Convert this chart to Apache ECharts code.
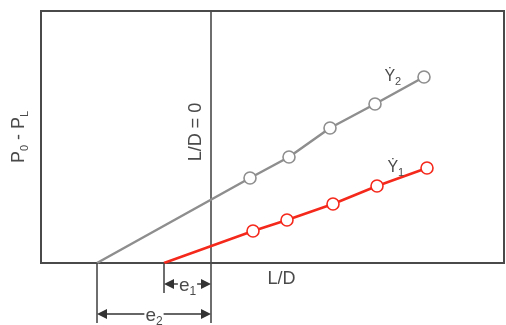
<!DOCTYPE html>
<html><head><meta charset="utf-8">
<script src="https://cdn.jsdelivr.net/npm/echarts@6/dist/echarts.min.js"></script>
<style>html,body{margin:0;padding:0;background:#fff}#chart{width:506px;height:325px}</style>
</head><body><div id="chart"></div>
<script>
// Pressure drop P0 - PL against L/D for two flow rates.
// Extrapolating each line to zero pressure drop gives the entrance corrections e1, e2.
const ldRate2 = [-11.4, 3.9, 7.8, 11.9, 16.4, 21.3];
const dpRate2 = [0, 8.5, 10.6, 13.5, 15.9, 18.6];
const ldRate1 = [-4.7, 4.2, 7.6, 12.2, 16.6, 21.6];
const dpRate1 = [0, 3.2, 4.3, 5.9, 7.7, 9.5];
const rateLabels = ['1', '2'];          // subscripts of the shear-rate symbol
const entranceValues = [4.7, 11.4];     // e1, e2 (distance of intercept from L/D = 0)
const xRange = [-17, 29.3];
const yRange = [0, 25.2];

const TEXT = '#4a4a4a';
const FONT = 'Liberation Sans, Arial, sans-serif';
const GRAY = '#8e8e8e';
const RED = '#f5281c';

function pts(xs, ys) {
  return xs.map((x, i) => i === 0
    ? { value: [x, ys[i]], symbol: 'none' }
    : { value: [x, ys[i]] });
}

function rateSeries(name, xs, ys, color) {
  const data = pts(xs, ys);
  const last = data[data.length - 1];
  last.label = {
    show: true, position: 'left', distance: 16,
    formatter: '{y|Ẏ}{s|' + name + '}',
    rich: {
      y: { fontFamily: FONT, fontSize: 16, color: TEXT },
      s: { fontFamily: FONT, fontSize: 11, color: TEXT, verticalAlign: 'bottom', padding: [9, 0, 0, 0] }
    }
  };
  return {
    type: 'line', data: data, symbol: 'circle', symbolSize: 12, showSymbol: true,
    lineStyle: { color: color, width: 2.5 },
    itemStyle: { color: '#fff', borderColor: color, borderWidth: 1.6 },
    emphasis: { disabled: true }, animation: false, z: 3
  };
}

const chart = echarts.init(document.getElementById('chart'), null, { renderer: 'canvas' });
chart.setOption({
  animation: false,
  grid: { left: 41, right: 2, top: 11, bottom: 62, show: true, borderColor: '#4a4a4a', borderWidth: 2, backgroundColor: '#fff' },
  xAxis: {
    type: 'value', min: xRange[0], max: xRange[1],
    axisLine: { show: false }, axisTick: { show: false }, axisLabel: { show: false }, splitLine: { show: false },
    name: 'L/D', nameLocation: 'middle', nameGap: 7,
    nameTextStyle: { fontFamily: FONT, fontSize: 18, color: TEXT, padding: [0, 0, 0, 18] }
  },
  yAxis: {
    type: 'value', min: yRange[0], max: yRange[1],
    axisLine: { show: false }, axisTick: { show: false }, axisLabel: { show: false }, splitLine: { show: false },
    name: '{p|P}{s|0}{p| - P}{s|L}', nameLocation: 'middle', nameGap: 11, nameRotate: 90,
    nameTextStyle: {
      rich: {
        p: { fontFamily: FONT, fontSize: 18, color: TEXT },
        s: { fontFamily: FONT, fontSize: 11, color: TEXT, verticalAlign: 'bottom', padding: [10, 0, 0, 0] }
      }
    }
  },
  series: [
    // L/D = 0 reference line, running below the axis for the dimension lines
    {
      type: 'custom', data: [[0]], clip: false, silent: true, z: 2,
      renderItem: function (params, api) {
        const top = api.coord([api.value(0), yRange[1]]);
        const base = api.coord([api.value(0), 0]);
        return {
          type: 'group', children: [
            { type: 'line', shape: { x1: top[0], y1: top[1], x2: base[0], y2: base[1] + 60 }, style: { stroke: '#4a4a4a', lineWidth: 1.6 } },
            { type: 'text', x: top[0] - 15, y: base[1] - 131, rotation: Math.PI / 2,
              style: { text: 'L/D = 0', fontFamily: FONT, fontSize: 18, fill: TEXT, align: 'center', verticalAlign: 'middle' } }
          ]
        };
      }
    },
    rateSeries(rateLabels[1], ldRate2, dpRate2, GRAY),
    rateSeries(rateLabels[0], ldRate1, dpRate1, RED),
    // Dimension lines for e1 and e2
    {
      type: 'custom', data: entranceValues.map((v, i) => [v, i]), clip: false, silent: true, z: 4,
      renderItem: function (params, api) {
        const e = api.value(0), i = api.value(1);
        const p0 = api.coord([0, 0]);
        const pe = api.coord([-e, 0]);
        const drop = i === 0 ? 21 : 51;
        const ext = i === 0 ? 30 : 60;
        const y = p0[1] + drop;
        const c = '#333';
        const ah = 10, aw = 5;
        return {
          type: 'group', children: [
            { type: 'line', shape: { x1: pe[0], y1: p0[1], x2: pe[0], y2: p0[1] + ext }, style: { stroke: '#4a4a4a', lineWidth: 1.6 } },
            { type: 'line', shape: { x1: pe[0] + ah, y1: y, x2: p0[0] - ah, y2: y }, style: { stroke: c, lineWidth: 1.4 } },
            { type: 'polygon', shape: { points: [[pe[0], y], [pe[0] + ah, y - aw], [pe[0] + ah, y + aw]] }, style: { fill: c } },
            { type: 'polygon', shape: { points: [[p0[0], y], [p0[0] - ah, y - aw], [p0[0] - ah, y + aw]] }, style: { fill: c } },
            { type: 'text', x: (pe[0] + p0[0]) / 2, y: y + 2,
              style: {
                text: '{e|e}{s|' + (i + 1) + '}', align: 'center', verticalAlign: 'middle',
                backgroundColor: '#fff', padding: [0, 1],
                rich: {
                  e: { fontFamily: FONT, fontSize: 19, fill: TEXT, color: TEXT },
                  s: { fontFamily: FONT, fontSize: 12, fill: TEXT, color: TEXT, verticalAlign: 'bottom', padding: [11, 0, 0, 0] }
                }
              } }
          ]
        };
      }
    }
  ]
});
</script>
</body></html>
